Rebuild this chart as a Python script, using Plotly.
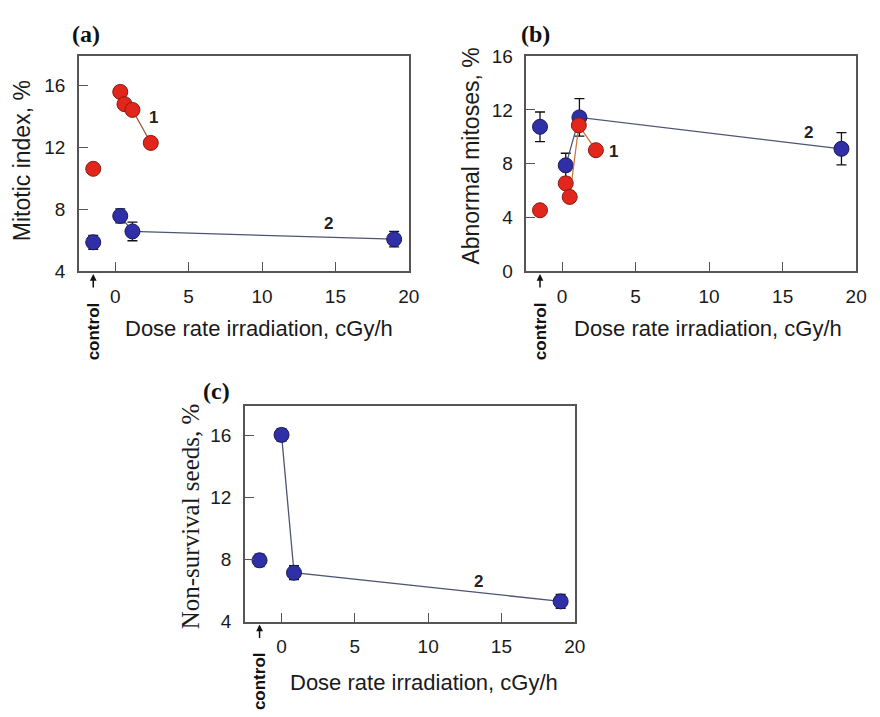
import plotly.graph_objects as go

# ---- data ---------------------------------------------------------------
control_x = -1.5

# (a) mitotic index
a_red_ctrl = 10.6
a_red_x = [0.34, 0.63, 1.17, 2.42]
a_red_y = [15.56, 14.77, 14.4, 12.27]
a_blue_ctrl, a_blue_ctrl_err = 5.86, 0.45
a_blue_x = [0.34, 1.17, 19.0]
a_blue_y = [7.56, 6.56, 6.06]
a_blue_err = [0.45, 0.6, 0.5]

# (b) abnormal mitoses
b_red_ctrl = 4.53
b_red_x = [0.25, 0.52, 1.14, 2.3]
b_red_y = [6.53, 5.52, 10.85, 9.0]
b_blue_ctrl, b_blue_ctrl_err = 10.74, 1.1
b_blue_x = [0.25, 1.18, 19.0]
b_blue_y = [7.87, 11.44, 9.1]
b_blue_err = [0.9, 1.4, 1.2]

# (c) non-survival seeds
c_blue_ctrl, c_blue_ctrl_err = 7.95, 0.4
c_blue_x = [0.0, 0.85, 19.04]
c_blue_y = [16.04, 7.15, 5.3]
c_blue_err = [0.4, 0.45, 0.45]

x_ticks = [0, 5, 10, 15, 20]
a_y_ticks = [4, 8, 12, 16]
b_y_ticks = [0, 4, 8, 12, 16]
c_y_ticks = [4, 8, 12, 16]

# ---- style ----------------------------------------------------------------
RED = "#e2261b"
RED_EDGE = "#8a1a10"
BLUE = "#2f2fa8"
BLUE_EDGE = "#1a1a5a"
RED_LINE = "#a2553a"
BLUE_LINE = "#4d5570"
AXIS = "#555555"
SANS = "Liberation Sans, Arial, sans-serif"
SERIF = "Liberation Serif, Times New Roman, serif"

W, H = 880, 717

fig = go.Figure()


def red_series(xs, ys, ctrl, xa, ya, line_color=RED_LINE):
    fig.add_trace(go.Scatter(
        x=xs, y=ys, xaxis=xa, yaxis=ya, mode="lines+markers",
        line=dict(color=line_color, width=1.2),
        marker=dict(size=15, color=RED, line=dict(color=RED_EDGE, width=1)),
        showlegend=False, hoverinfo="skip"))
    fig.add_trace(go.Scatter(
        x=[control_x], y=[ctrl], xaxis=xa, yaxis=ya, mode="markers",
        marker=dict(size=15, color=RED, line=dict(color=RED_EDGE, width=1)),
        showlegend=False, hoverinfo="skip"))


def blue_series(xs, ys, errs, ctrl, ctrl_err, xa, ya):
    fig.add_trace(go.Scatter(
        x=xs, y=ys, xaxis=xa, yaxis=ya, mode="lines+markers",
        line=dict(color=BLUE_LINE, width=1.3),
        marker=dict(size=15, color=BLUE, line=dict(color=BLUE_EDGE, width=1)),
        error_y=dict(type="data", array=errs, color="#111111", thickness=1.3, width=5),
        showlegend=False, hoverinfo="skip"))
    fig.add_trace(go.Scatter(
        x=[control_x], y=[ctrl], xaxis=xa, yaxis=ya, mode="markers",
        marker=dict(size=15, color=BLUE, line=dict(color=BLUE_EDGE, width=1)),
        error_y=dict(type="data", array=[ctrl_err], color="#111111", thickness=1.3, width=5),
        showlegend=False, hoverinfo="skip"))


# panel (a)
red_series(a_red_x, a_red_y, a_red_ctrl, "x", "y")
blue_series(a_blue_x, a_blue_y, a_blue_err, a_blue_ctrl, a_blue_ctrl_err, "x", "y")
# panel (b)
blue_series(b_blue_x, b_blue_y, b_blue_err, b_blue_ctrl, b_blue_ctrl_err, "x2", "y2")
red_series(b_red_x, b_red_y, b_red_ctrl, "x2", "y2", line_color="#c8703a")
# panel (c)
blue_series(c_blue_x, c_blue_y, c_blue_err, c_blue_ctrl, c_blue_ctrl_err, "x3", "y3")


def px_x(p):
    return p / W


def px_y(p):
    return 1 - p / H


def xaxis(dom, rng, anchor):
    return dict(domain=dom, range=rng, anchor=anchor, tickvals=x_ticks,
                showline=True, mirror=True, linecolor=AXIS, linewidth=1.5,
                ticks="inside", ticklen=9, tickcolor=AXIS, tickwidth=1.3,
                showgrid=False, zeroline=False, ticklabelstandoff=7,
                tickfont=dict(family=SANS, size=19, color="#1a1a1a"))


def yaxis(dom, rng, anchor, tv):
    return dict(domain=dom, range=rng, anchor=anchor, tickvals=tv,
                showline=True, mirror=True, linecolor=AXIS, linewidth=1.5,
                ticks="inside", ticklen=9, tickcolor=AXIS, tickwidth=1.3,
                showgrid=False, zeroline=False, ticklabelstandoff=8,
                tickfont=dict(family=SANS, size=19, color="#1a1a1a"))


fig.update_layout(
    width=W, height=H, margin=dict(l=0, r=0, t=0, b=0),
    paper_bgcolor="white", plot_bgcolor="white", showlegend=False,
    xaxis=xaxis([px_x(80), px_x(414)], [-2.47, 20], "y"),
    yaxis=yaxis([px_y(269), px_y(47)], [4, 17.9], "x", a_y_ticks),
    xaxis2=xaxis([px_x(533), px_x(867)], [-2.43, 20], "y2"),
    yaxis2=yaxis([px_y(269), px_y(47.5)], [0, 16], "x2", b_y_ticks),
    xaxis3=xaxis([px_x(248), px_x(582)], [-2.5, 20], "y3"),
    yaxis3=yaxis([px_y(630), px_y(408)], [4, 17.9], "x3", c_y_ticks),
)

ann = []


def text(xp, yp, s, size=22, family=SANS, angle=0, bold=False, color="#1a1a1a"):
    ann.append(dict(x=px_x(xp), y=px_y(yp), xref="paper", yref="paper",
                    text=f"<b>{s}</b>" if bold else s, showarrow=False,
                    textangle=angle, xanchor="center", yanchor="middle",
                    font=dict(family=family, size=size, color=color)))


# panel letters
text(87, 25, "(a)", size=24, family=SERIF, bold=True, color="#111111")
text(542, 25, "(b)", size=24, family=SERIF, bold=True, color="#111111")
text(219, 392, "(c)", size=24, family=SERIF, bold=True, color="#111111")

# axis titles
text(23, 155, "Mitotic index, %", size=23, angle=-90)
text(477, 151, "Abnormal mitoses, %", size=23, angle=-90)
text(193, 522, "Non-survival seeds, %", size=25, family=SERIF, angle=-90)
text(262, 328, "Dose rate irradiation, cGy/h")
text(717, 328, "Dose rate irradiation, cGy/h")
text(429, 693, "Dose rate irradiation, cGy/h")

# series numbers
for xa, ya, xv, yv, s in [("x", "y", 2.63, 13.94, "1"), ("x", "y", 14.55, 7.06, "2"),
                          ("x2", "y2", 3.5, 8.87, "1"), ("x2", "y2", 16.77, 10.3, "2"),
                          ("x3", "y3", 13.45, 6.6, "2")]:
    ann.append(dict(x=xv, y=yv, xref=xa, yref=ya, text=f"<b>{s}</b>", showarrow=False,
                    font=dict(family=SANS, size=17, color="#222222")))

# "control" markers below each x axis
for xa, ya, ybot in [("x", "y", 4), ("x2", "y2", 0), ("x3", "y3", 4)]:
    ann.append(dict(x=control_x, y=ybot, xref=xa, yref=ya, text="", showarrow=True,
                    ax=0, ay=18, axref="pixel", ayref="pixel", arrowhead=2,
                    arrowsize=0.9, arrowwidth=1.5, arrowcolor="#111111", standoff=3))
    ann.append(dict(x=control_x, y=ybot, xref=xa, yref=ya, text="<b>control</b>",
                    showarrow=False, textangle=-90, yshift=-60, xshift=0,
                    font=dict(family=SANS, size=17, color="#111111")))
    fig.add_shape(type="line", xref=xa, yref=ya, x0=control_x - 0.25, x1=control_x + 0.25,
                  y0=ybot, y1=ybot, line=dict(color="#111111", width=1.6),
                  layer="above")

fig.update_layout(annotations=ann)

# shift the small bars under the arrows down by a fixed pixel offset
for shp in fig.layout.shapes:
    shp.update(ysizemode="pixel", yanchor=shp.y0, y0=-24, y1=-24)

fig.write_html("out.html")
